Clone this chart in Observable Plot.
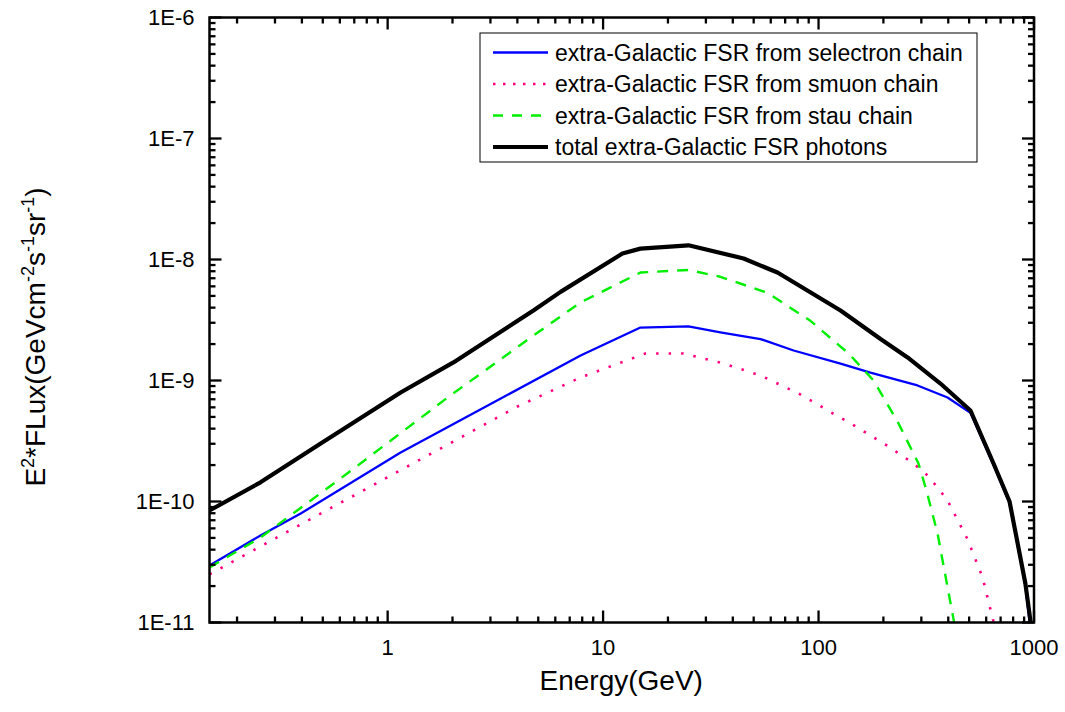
<!DOCTYPE html>
<html>
<head>
<meta charset="utf-8">
<script src="https://cdn.jsdelivr.net/npm/d3@7"></script>
<script src="https://cdn.jsdelivr.net/npm/@observablehq/plot@0.6"></script>
<style>
  html, body { margin: 0; padding: 0; background: #ffffff; }
  #chart svg { display: block; font-family: 'Liberation Sans', Arial, sans-serif; background: #ffffff; }
</style>
</head>
<body>
<div id="chart"></div>
<script>
// ---- data ----
const energyTotal = [0.149, 0.257, 0.489, 1.149, 2.02, 4.75, 6.35, 12.3, 14.9, 24.9, 44.9, 64.5, 126.5, 194, 259, 368, 507, 649, 770, 912, 965];
const fluxTotal   = [8.43e-11, 1.44e-10, 3.01e-10, 7.96e-10, 1.41e-9, 3.79e-9, 5.4e-9, 1.12e-8, 1.23e-8, 1.31e-8, 1.02e-8, 7.8e-9, 3.79e-9, 2.2e-9, 1.55e-9, 9.44e-10, 5.65e-10, 2.06e-10, 1.0e-10, 2.1e-11, 1.0e-11];

const energySelectron = [0.149, 0.257, 0.395, 1.149, 3.35, 7.86, 14.9, 24.9, 35, 53.8, 76.6, 126.5, 174, 288, 397, 507, 649, 770, 912, 955];
const fluxSelectron   = [2.96e-11, 5.24e-11, 7.96e-11, 2.54e-10, 7.1e-10, 1.61e-9, 2.74e-9, 2.8e-9, 2.5e-9, 2.2e-9, 1.77e-9, 1.38e-9, 1.16e-9, 9.1e-10, 7.24e-10, 5.4e-10, 2.0e-10, 9.7e-11, 2.0e-11, 1.0e-11];

const energySmuon = [0.149, 0.454, 1.534, 4.01, 7.86, 15.7, 23.6, 35.9, 53.8, 80.8, 122, 141, 211, 276, 321, 360, 397, 491, 577, 650];
const fluxSmuon   = [2.5e-11, 7.4e-11, 2.4e-10, 6.1e-10, 1.06e-9, 1.67e-9, 1.67e-9, 1.39e-9, 1.1e-9, 7.8e-10, 5.1e-10, 4.42e-10, 2.85e-10, 2.06e-10, 1.64e-10, 1.28e-10, 1.02e-10, 4.9e-11, 2.36e-11, 1.0e-11];

const energyStau = [0.149, 0.257, 0.605, 1.90, 4.75, 7.86, 14.9, 24.9, 35, 58, 92, 138, 180, 235, 291, 317, 357, 426];
const fluxStau   = [2.85e-11, 5.04e-11, 1.55e-10, 7.24e-10, 2.35e-9, 4.42e-9, 7.8e-9, 8.2e-9, 7.2e-9, 5.3e-9, 3.1e-9, 1.67e-9, 1.0e-9, 4.42e-10, 2.06e-10, 1.23e-10, 5.4e-11, 1.0e-11];

const seriesNames = [
  "extra-Galactic FSR from selectron chain",
  "extra-Galactic FSR from smuon chain",
  "extra-Galactic FSR from stau chain",
  "total extra-Galactic FSR photons"
];

const xTickValues = [1, 10, 100, 1000];
const xTickLabels = ["1", "10", "100", "1000"];
const yTickValues = [1e-11, 1e-10, 1e-9, 1e-8, 1e-7, 1e-6];
const yTickLabels = ["1E-11", "1E-10", "1E-9", "1E-8", "1E-7", "1E-6"];
const xLabel = "Energy(GeV)";

// ---- layout ----
const W = 1065, H = 712;
const mL = 209, mR = 31.5, mT = 17, mB = 90;
const plotW = W - mL - mR, plotH = H - mT - mB;
const majorLen = 12, minorLen = 6;
const xLo = 0.149, xHi = 1000, yLo = 1e-11, yHi = 1e-6;

const styles = [
  {stroke: "#0000ff", strokeWidth: 2.3, dash: null, legendDash: null},
  {stroke: "#ff0080", strokeWidth: 2.6, dash: "2.5,10", legendDash: "2.5,7.5"},
  {stroke: "#00ee00", strokeWidth: 2.4, dash: "11,9", legendDash: "10,9"},
  {stroke: "#000000", strokeWidth: 4.2, dash: null, legendDash: null}
];

const rows = (es, fs) => es.map((e, i) => ({E: e, F: fs[i]}));
const dataSets = [
  rows(energySelectron, fluxSelectron),
  rows(energySmuon, fluxSmuon),
  rows(energyStau, fluxStau),
  rows(energyTotal, fluxTotal)
];

// minor tick positions from decades
const xMinor = [];
for (const dec of [0.1, 1, 10, 100]) for (let k = 2; k <= 9; k++) { const v = k * dec; if (v >= xLo && v <= xHi) xMinor.push(+v.toPrecision(3)); }
const yMinor = [];
for (const dec of [1e-11, 1e-10, 1e-9, 1e-8, 1e-7]) for (let k = 2; k <= 9; k++) yMinor.push(+(k * dec).toPrecision(3));

// inward tick segments (length in pixels converted through the log scales' decade size)
const pxPerDecX = plotW / Math.log10(xHi / xLo);
const pxPerDecY = plotH / Math.log10(yHi / yLo);
const shiftX = px => Math.pow(10, px / pxPerDecX);
const shiftY = px => Math.pow(10, px / pxPerDecY);
const tickSegs = [];
for (const [vals, len] of [[xTickValues, majorLen], [xMinor, minorLen]]) {
  for (const v of vals) {
    tickSegs.push({x1: v, x2: v, y1: yLo, y2: yLo * shiftY(len)});
    tickSegs.push({x1: v, x2: v, y1: yHi, y2: yHi / shiftY(len)});
  }
}
for (const [vals, len] of [[yTickValues, majorLen], [yMinor, minorLen]]) {
  for (const v of vals) {
    tickSegs.push({y1: v, y2: v, x1: xLo, x2: xLo * shiftX(len)});
    tickSegs.push({y1: v, y2: v, x1: xHi, x2: xHi / shiftX(len)});
  }
}

const lineMarks = dataSets.map((d, i) => Plot.line(d, {
  x: "E", y: "F",
  stroke: styles[i].stroke,
  strokeWidth: styles[i].strokeWidth,
  strokeDasharray: styles[i].dash,
  strokeLinecap: "butt",
  strokeLinejoin: "round"
}));

const chartSvg = Plot.plot({
  width: W, height: H,
  marginLeft: mL, marginRight: mR, marginTop: mT, marginBottom: mB,
  x: {type: "log", domain: [xLo, xHi]},
  y: {type: "log", domain: [yLo, yHi]},
  marks: [
    ...lineMarks,
    Plot.link(tickSegs, {x1: "x1", y1: "y1", x2: "x2", y2: "y2", stroke: "#000000", strokeWidth: 2.3}),
    Plot.frame({stroke: "black", strokeWidth: 2.5}),
    Plot.axisX({ticks: xTickValues, tickFormat: d => xTickLabels[xTickValues.indexOf(d)], tickSize: 0, tickPadding: 17, fontSize: 22, label: null}),
    Plot.axisY({ticks: yTickValues, tickFormat: d => yTickLabels[yTickValues.indexOf(d)], tickSize: 0, tickPadding: 15, fontSize: 22, label: null})
  ]
});

document.getElementById("chart").appendChild(chartSvg);

const sel = d3.select(chartSvg);
const fontStack = "'Liberation Sans', Arial, sans-serif";

// x-axis title
sel.append("text")
  .attr("x", mL + plotW / 2).attr("y", 690)
  .attr("text-anchor", "middle")
  .attr("font-family", fontStack).attr("font-size", 28).attr("fill", "black")
  .text(xLabel);

// y-axis title with superscripts
const yTitle = sel.append("text")
  .attr("transform", "translate(45,337) rotate(-90)")
  .attr("text-anchor", "middle")
  .attr("font-family", fontStack).attr("font-size", 28).attr("fill", "black");
const titleParts = [["E", false], ["2", true], ["*FLux(GeVcm", false], ["-2", true], ["s", false], ["-1", true], ["sr", false], ["-1", true], [")", false]];
let raised = false;
for (const [t, sup] of titleParts) {
  const ts = yTitle.append("tspan").text(t);
  if (sup && !raised) { ts.attr("dy", -11).attr("font-size", 18); raised = true; }
  else if (sup && raised) { ts.attr("font-size", 18); }
  else if (!sup && raised) { ts.attr("dy", 11); raised = false; }
}

// legend
const legendG = sel.append("g");
legendG.append("rect").attr("x", 480).attr("y", 33).attr("width", 497).attr("height", 129)
  .attr("fill", "white").attr("stroke", "black").attr("stroke-width", 1);
const rowY = [52.5, 84, 115.5, 147];
seriesNames.forEach((name, i) => {
  legendG.append("line").attr("x1", 493).attr("x2", 548).attr("y1", rowY[i]).attr("y2", rowY[i])
    .attr("stroke", styles[i].stroke).attr("stroke-width", styles[i].strokeWidth)
    .attr("stroke-dasharray", styles[i].legendDash);
  legendG.append("text").attr("x", 555).attr("y", rowY[i]).attr("dy", "0.36em")
    .attr("text-anchor", "start")
    .attr("font-family", fontStack).attr("font-size", 23).attr("fill", "black")
    .text(name);
});
</script>
</body>
</html>
